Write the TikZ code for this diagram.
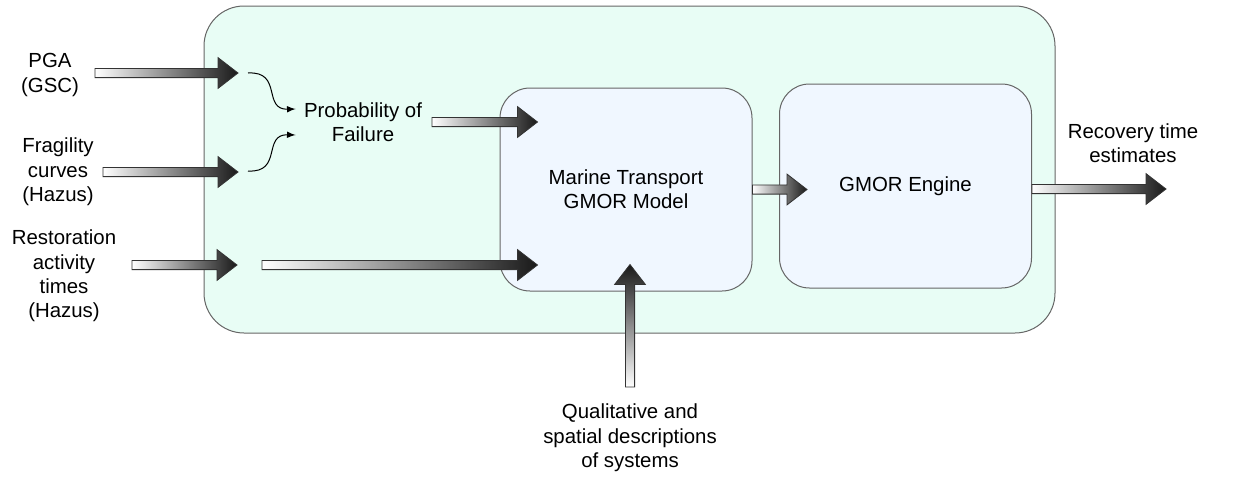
\documentclass[tikz,border=0pt]{standalone}
\usepackage{fontspec}
\setmainfont{Liberation Sans}
\usetikzlibrary{calc,positioning}
\definecolor{mint}{RGB}{232,253,245}
\definecolor{paleblue}{RGB}{240,247,255}
\definecolor{rim}{RGB}{102,102,102}
\tikzset{
	frame/.style={draw=rim, line width=0.5pt, fill=mint, rounded corners=20pt,
		minimum width=425.5pt, minimum height=163.5pt},
	box/.style={draw=rim, line width=0.5pt, fill=paleblue, rounded corners=15pt,
		minimum width=126pt, minimum height=101.5pt, align=center},
	lbl/.style={align=center, inner sep=1pt},
	fat arrow/.style={draw=black!80, line width=0.4pt, shading=axis,
		left color=white, right color=black!90},
	thin arrow/.style={line width=0.5pt, >=latex, ->}
}
%% block arrow with gradient: #2 tail, #3 tip
\newcommand{\fatarrow}[3][]{%
	\coordinate (hb) at ($(#3)!10pt!(#2)$);
	\path[fat arrow,#1] ($(#2)!2.3pt!90:(#3)$) -- ($(hb)!2.3pt!90:(#3)$)
		-- ($(hb)!7.7pt!90:(#3)$) -- (#3) -- ($(hb)!7.7pt!-90:(#3)$)
		-- ($(hb)!2.3pt!-90:(#3)$) -- ($(#2)!2.3pt!-90:(#3)$) -- cycle;}
\begin{document}
\begin{tikzpicture}[x=0.5pt, y=-0.5pt, font=\fontsize{10.2}{12.2}\selectfont]
	\useasboundingbox (0,0) rectangle (1237,477);
	%%Kaesten
	\node[frame] (outer) at (629.5,169.5) {};
	\node[box] (marine) at (626,189.5) {Marine Transport\\GMOR Model};
	\node[box, minimum height=102pt] (engine) at (905.5,186) {GMOR Engine};
	%%Beschriftungen
	\node[lbl] (pga) at (50,75) {PGA\\(GSC)};
	\node[lbl] (frag) at (58,172) {Fragility\\curves\\(Hazus)};
	\node[lbl] (rest) at (64,276) {Restoration\\activity\\times\\(Hazus)};
	\node[lbl] (pof) at (363,122) {Probability of\\Failure};
	\node[lbl] (rec) at (1133,143) {Recovery time\\estimates};
	\node[lbl] (qual) at (630,438) {Qualitative and\\spatial descriptions\\of systems};
	%%Endpunkte
	\coordinate (pga-a) at (95,73);
	\coordinate (pga-b) at (238,73);
	\coordinate (frag-a) at (103,172);
	\coordinate (frag-b) at (238,172);
	\coordinate (rest-a) at (132,265);
	\coordinate (rest-b) at (237,265);
	\coordinate (long-a) at (262,265);
	\coordinate (pof-a) at (432,122);
	\coordinate (out) at (1166,189);
	\coordinate (qual-a) at (630,387);
	%%Pfeile
	\fatarrow{pga-a}{pga-b}
	\fatarrow{frag-a}{frag-b}
	\fatarrow{rest-a}{rest-b}
	\fatarrow{long-a}{$(marine.west |- long-a)+(38,0)$}
	\fatarrow{pof-a}{$(marine.west |- pof-a)+(38,0)$}
	\fatarrow{marine.east}{$(engine.west |- marine.east)+(28,0)$}
	\fatarrow{engine.east |- out}{out}
	\fatarrow[top color=black!90, bottom color=white]{qual-a}{$(marine.south -| qual-a)+(0,-27)$}
	\draw[thin arrow] ($(pga-b)+(10,0)$) .. controls (283,71) and (262,110) .. ($(pof.west)+(-6,-13)$);
	\draw[thin arrow] ($(frag-b)+(10,-1)$) .. controls (283,173) and (262,134) .. ($(pof.west)+(-6,13)$);
\end{tikzpicture}
\end{document}
